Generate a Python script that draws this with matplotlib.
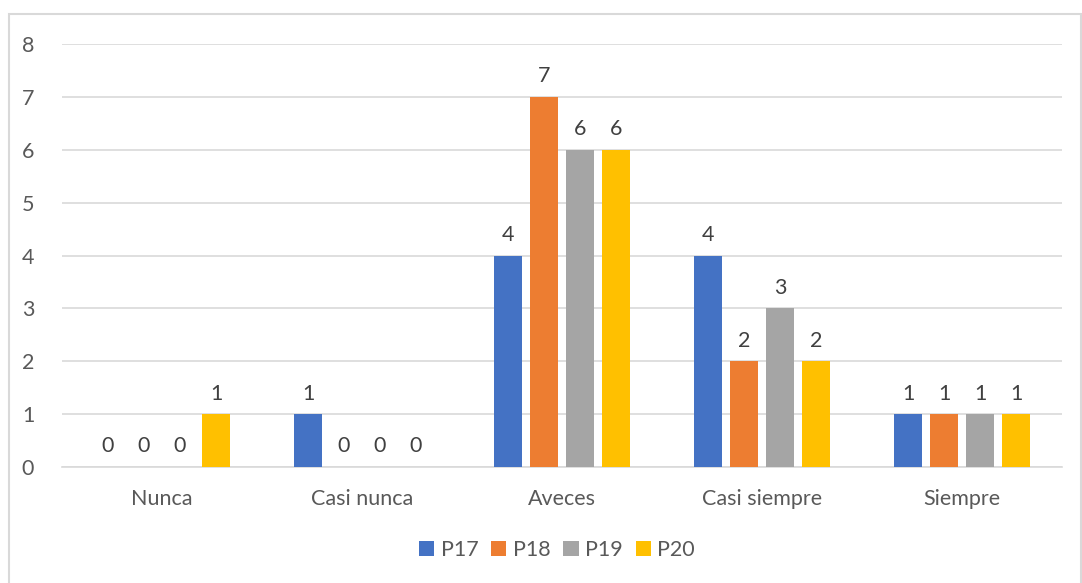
import numpy as np
import matplotlib.pyplot as plt
from matplotlib.patches import Rectangle

categories = ['Nunca', 'Casi nunca', 'Aveces', 'Casi siempre', 'Siempre']
series = ['P17', 'P18', 'P19', 'P20']
p17 = [0, 1, 4, 4, 1]
p18 = [0, 0, 7, 2, 1]
p19 = [0, 0, 6, 3, 1]
p20 = [1, 0, 6, 2, 1]
colors = ['#4472C4', '#ED7D31', '#A5A5A5', '#FFC000']

plt.rcParams['font.family'] = ['Lato', 'DejaVu Sans']
txt = '#595959'
fs = 15.5

fig = plt.figure(figsize=(10.82, 5.83), dpi=100)
fig.patches.append(Rectangle((9 / 1082, -0.01), 1072 / 1082, 1 - 14 / 583 + 0.01,
                             transform=fig.transFigure, fill=False,
                             edgecolor='#D9D9D9', linewidth=1.5))
ax = fig.add_axes([62 / 1082, 116 / 583, 1000 / 1082, 423 / 583])

x = np.arange(len(categories))
width = 0.14
step = 0.18
for i, (name, vals) in enumerate(zip(series, [p17, p18, p19, p20])):
    pos = x + (i - 1.5) * step
    ax.bar(pos, vals, width, color=colors[i], label=name, zorder=3)
    for xp, v in zip(pos, vals):
        ax.text(xp, v + 0.2, str(v), ha='center', va='bottom', fontsize=fs, color='#404040')

ax.set_xlim(-0.5, 4.5)
ax.set_ylim(0, 8)
ax.set_yticks(range(0, 9))
ax.yaxis.grid(True, color='#D9D9D9', linewidth=1.2, zorder=0)
for s in ['top', 'right', 'left']:
    ax.spines[s].set_visible(False)
ax.spines['bottom'].set_color('#D9D9D9')
ax.spines['bottom'].set_linewidth(1.2)
ax.tick_params(axis='both', length=0, labelsize=fs, labelcolor=txt)
ax.tick_params(axis='y', pad=20)
ax.tick_params(axis='x', pad=16)
ax.set_xticks(x)
ax.set_xticklabels(categories)

fig.legend(loc='center', bbox_to_anchor=(557 / 1082, 1 - 550 / 583), ncol=4,
           frameon=False, fontsize=fs, handlelength=0.7, handleheight=0.7,
           handletextpad=0.3, columnspacing=0.6, labelcolor=txt)

plt.savefig('out.png')
